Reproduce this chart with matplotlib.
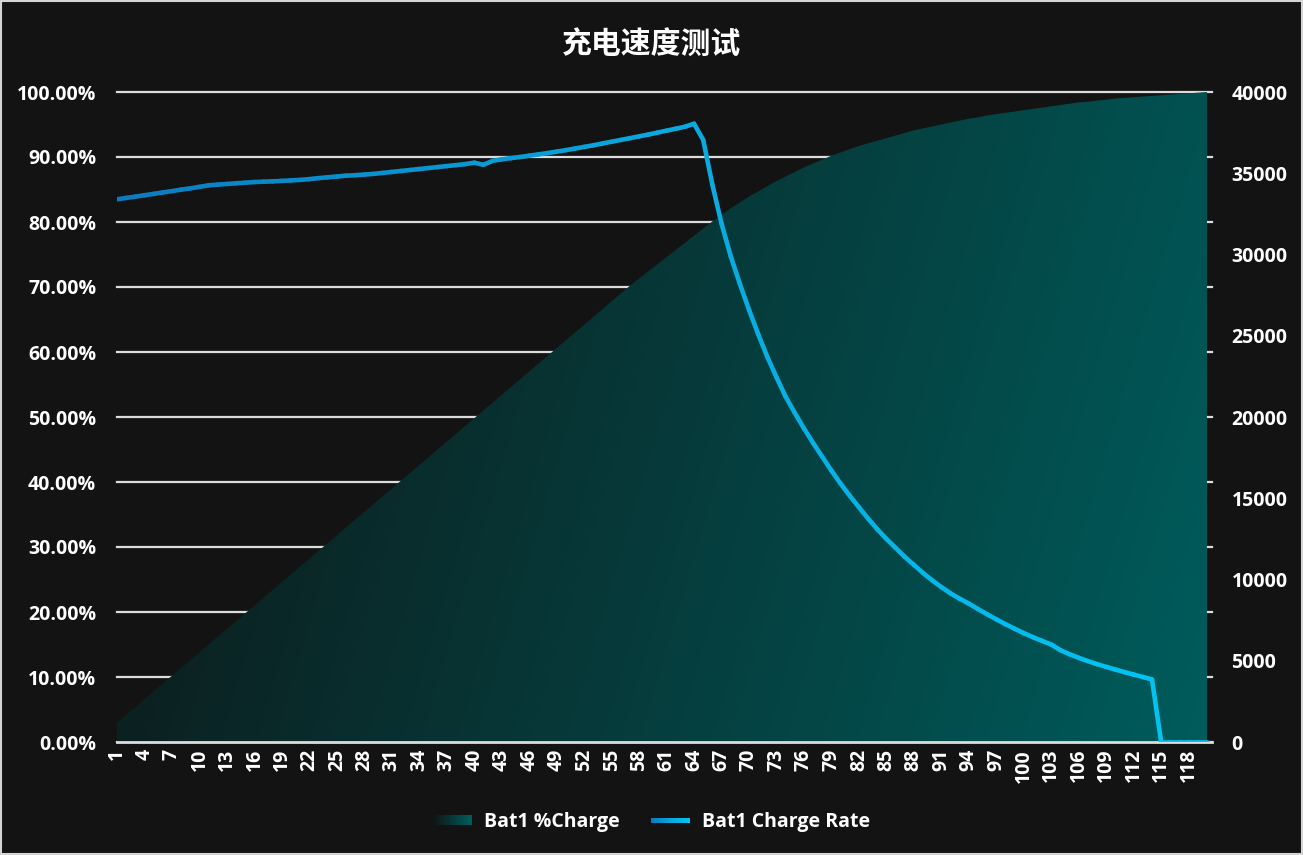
# coding:utf-8
import numpy as np
import matplotlib
matplotlib.use("Agg")
import matplotlib.pyplot as plt
from matplotlib.collections import LineCollection
from matplotlib.colors import LinearSegmentedColormap
from matplotlib.legend_handler import HandlerBase
from matplotlib.patches import Rectangle

plt.rcParams['font.family'] = ['Open Sans', 'Noto Sans CJK SC', 'DejaVu Sans']
plt.rcParams['axes.unicode_minus'] = False

title = "充电速度测试"
series_charge = "Bat1 %Charge"
series_rate = "Bat1 Charge Rate"

points = list(range(1, 121))

charge_pct = [
    3.0, 4.2, 5.4, 6.6, 7.8, 9.0, 10.2, 11.4, 12.6, 13.8,
    15.0, 16.2, 17.4, 18.6, 19.8, 21.0, 22.2, 23.4, 24.6, 25.8,
    27.0, 28.2, 29.4, 30.6, 31.8, 33.0, 34.2, 35.4, 36.6, 37.8,
    39.0, 40.2, 41.4, 42.6, 43.8, 45.0, 46.2, 47.4, 48.6, 49.8,
    51.0, 52.2, 53.4, 54.6, 55.8, 57.0, 58.2, 59.4, 60.6, 61.8,
    63.0, 64.2, 65.4, 66.6, 67.8, 69.0, 70.2, 71.3, 72.4, 73.5,
    74.6, 75.7, 76.8, 77.9, 79.0, 80.1, 81.1, 82.1, 83.0, 83.9,
    84.7, 85.5, 86.3, 87.0, 87.7, 88.4, 89.0, 89.6, 90.2, 90.7,
    91.2, 91.7, 92.1, 92.5, 92.9, 93.3, 93.7, 94.1, 94.4, 94.7,
    95.0, 95.3, 95.6, 95.9, 96.1, 96.4, 96.6, 96.8, 97.0, 97.2,
    97.4, 97.6, 97.8, 98.0, 98.2, 98.4, 98.5, 98.7, 98.8, 99.0,
    99.1, 99.2, 99.3, 99.4, 99.5, 99.6, 99.7, 99.8, 99.9, 100.0,
]

charge_rate = [
    33400, 33480, 33560, 33650, 33730, 33820, 33900, 33990, 34070, 34160,
    34260, 34300, 34340, 34380, 34420, 34460, 34480, 34500, 34530, 34560,
    34590, 34640, 34700, 34750, 34800, 34850, 34880, 34920, 34960, 35020,
    35080, 35140, 35200, 35260, 35320, 35380, 35440, 35500, 35560, 35650,
    35520, 35760, 35860, 35930, 36000, 36080, 36160, 36240, 36330, 36420,
    36520, 36620, 36720, 36830, 36940, 37050, 37160, 37270, 37380, 37500,
    37620, 37740, 37860, 38050, 37050, 34300, 31900, 29900, 28200, 26600,
    25100, 23700, 22450, 21250, 20250, 19300, 18400, 17550, 16700, 15900,
    15150, 14450, 13750, 13100, 12500, 11950, 11400, 10900, 10400, 9950,
    9530, 9150, 8820, 8520, 8180, 7860, 7550, 7250, 6970, 6700,
    6450, 6220, 6000, 5650, 5400, 5180, 4980, 4790, 4620, 4460,
    4300, 4150, 4000, 3850, 0, 0, 0, 0, 0, 0,
]

bg = '#131313'
grid_c = '#dcdcdc'
area_cmap = LinearSegmentedColormap.from_list('area', ['#0e1616', '#005c5c'])
line_cmap = LinearSegmentedColormap.from_list('line', ['#0b7cbf', '#0aa8de', '#00c6f5'])


class GradientHandler(HandlerBase):
    def __init__(self, cmap, height_frac):
        super().__init__()
        self.cmap = cmap
        self.height_frac = height_frac

    def create_artists(self, legend, orig_handle, xdescent, ydescent,
                       width, height, fontsize, trans):
        n = 20
        h = height * self.height_frac
        y0 = -ydescent + (height - h) / 2
        arts = []
        for i in range(n):
            r = Rectangle((-xdescent + width * i / n, y0), width / n * 1.05, h,
                          facecolor=self.cmap(i / (n - 1)), edgecolor='none',
                          transform=trans)
            arts.append(r)
        return arts


fig = plt.figure(figsize=(13.03, 8.55), dpi=100, facecolor=bg)
ax = fig.add_axes([117 / 1303, 1 - 742 / 855, (1212 - 117) / 1303, 650 / 855])
ax.set_facecolor(bg)

x = np.array(points, dtype=float)
y = np.array(charge_pct)

# gradient filled area
poly = ax.fill_between(x, 0, y, facecolor='none', edgecolor='none')
xx, yy = np.meshgrid(np.linspace(0, 1, 400), np.linspace(0, 1, 300))
t = np.clip(0.85 * xx + 0.15 * (1 - yy), 0, 1)
im = ax.imshow(area_cmap(t), extent=[1, 120, 0, 100], origin='lower',
               aspect='auto', zorder=1.5, interpolation='bilinear')
im.set_clip_path(poly.get_paths()[0], transform=ax.transData)

ax.set_xlim(1, 120.55)
ax.set_ylim(0, 100)
ax.set_yticks(np.arange(0, 101, 10))
ax.yaxis.set_major_formatter(plt.FuncFormatter(lambda v, p: f'{v:.2f}%'))
ax.set_xticks(points[::3])
ax.set_xticklabels([str(p) for p in points[::3]], rotation=90)
ax.set_axisbelow(True)
ax.yaxis.grid(True, color=grid_c, linewidth=1.6)
for gl in ax.get_ygridlines():
    gl.set_clip_on(False)
ax.tick_params(axis='y', length=0, pad=15, labelsize=14, labelcolor='white')
ax.tick_params(axis='x', length=0, pad=5, labelsize=14, labelcolor='white')
for lab in ax.get_yticklabels() + ax.get_xticklabels():
    lab.set_fontweight('bold')
for s in ['left', 'right', 'top']:
    ax.spines[s].set_visible(False)
ax.spines['bottom'].set_color(grid_c)
ax.spines['bottom'].set_linewidth(2)

# charge rate line on right axis
ax2 = ax.twinx()
ax2.set_ylim(0, 40000)
ax2.set_yticks(np.arange(0, 40001, 5000))
pts = np.column_stack([x, charge_rate])
segs = np.stack([pts[:-1], pts[1:]], axis=1)
lc = LineCollection(segs, colors=line_cmap(np.linspace(0, 1, len(segs))),
                    linewidth=3.3, capstyle='round', joinstyle='round')
ax2.add_collection(lc)
ax2.tick_params(axis='y', length=0, pad=14, labelsize=14, labelcolor='white')
for lab in ax2.get_yticklabels():
    lab.set_fontweight('bold')
for s in ax2.spines.values():
    s.set_visible(False)

fig.text(0.5, 1 - 45 / 855, title, ha='center', va='center', color='white',
         fontsize=21.5, fontweight='bold')

h1 = Rectangle((0, 0), 1, 1)
h2 = Rectangle((0, 0), 1, 1)
leg = fig.legend([h1, h2], [series_charge, series_rate], loc='center',
                 bbox_to_anchor=(0.5, 1 - 822 / 855), ncol=2, frameon=False,
                 handlelength=2.0, handletextpad=0.6, columnspacing=1.65,
                 prop={'weight': 'bold', 'size': 14},
                 handler_map={h1: GradientHandler(area_cmap, 0.75),
                              h2: GradientHandler(line_cmap, 0.35)})
for txt in leg.get_texts():
    txt.set_color('white')

fig.patches.append(Rectangle((0.0008, 0.001), 0.9984, 0.998, transform=fig.transFigure,
                             fill=False, edgecolor='#d4d4d4', linewidth=1.5))

plt.savefig("out.png", dpi=100, facecolor=bg)
